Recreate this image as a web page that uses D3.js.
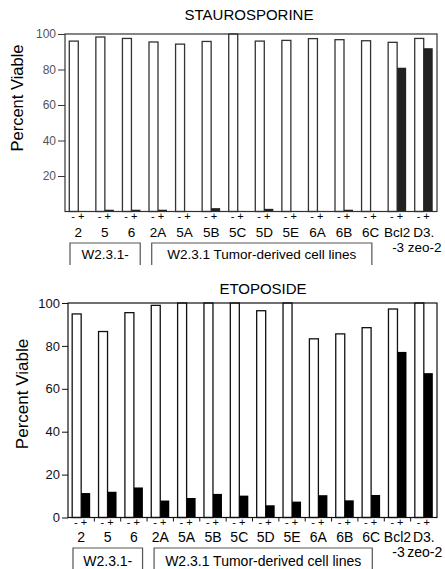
<!DOCTYPE html>
<html>
<head>
<meta charset="utf-8">
<script src="https://cdn.jsdelivr.net/npm/d3@7"></script>
<style>
  body { margin: 0; background: #fff; }
  svg { font-family: "Liberation Sans", Arial, sans-serif; }
</style>
</head>
<body>
<script>
// cell lines, in plotting order
const categories = ["2", "5", "6", "2A", "5A", "5B", "5C", "5D", "5E", "6A", "6B", "6C", "Bcl2-3", "D3.zeo-2"];
const labelLine1 = ["2", "5", "6", "2A", "5A", "5B", "5C", "5D", "5E", "6A", "6B", "6C", "Bcl2", "D3."];
const labelLine2 = ["", "", "", "", "", "", "", "", "", "", "", "", "-3", "zeo-2"];

// percent viable, untreated (-) and treated (+)
const stauroMinus = [96, 98.3, 97.5, 95.5, 94.3, 95.8, 100, 96, 96.4, 97.4, 96.8, 96.2, 95.3, 97.5];
const stauroPlus  = [0.3, 1, 1, 1, 0.3, 1.9, 0.3, 1.5, 0.3, 0.3, 1, 0.3, 81, 92];
const etoMinus = [94.9, 86.7, 95.5, 98.9, 100, 100, 100, 96.4, 100, 83.3, 85.6, 88.5, 97.2, 100];
const etoPlus  = [11.4, 12, 14, 7.9, 9.1, 11, 10.2, 5.7, 7.4, 10.4, 8, 10.5, 77.2, 67.3];

const stauroTicks = [20, 40, 60, 80, 100];
const etoTicks = [0, 20, 40, 60, 80, 100];

const svg = d3.select("body").append("svg")
    .attr("width", 445).attr("height", 569);

function panel(cfg) {
  const x = d3.scaleBand().domain(categories).range([cfg.left, cfg.right]);
  const y = d3.scaleLinear().domain([0, 100]).range([cfg.bottom, cfg.top]);
  const half = 9;
  const g = svg.append("g");

  g.append("text")
    .attr("x", cfg.titleX).attr("y", cfg.titleY)
    .attr("text-anchor", "middle")
    .style("font-size", "15px")
    .text(cfg.title);

  // untreated bars
  g.selectAll("rect.minus").data(categories).enter().append("rect")
    .attr("class", "minus")
    .attr("x", (d) => x(d) + x.bandwidth() / 2 - half)
    .attr("y", (d, i) => y(cfg.minus[i]))
    .attr("width", half)
    .attr("height", (d, i) => y(0) - y(cfg.minus[i]))
    .style("fill", "#fff")
    .style("stroke", cfg.ink)
    .style("stroke-width", 1.3);

  // treated bars
  g.selectAll("rect.plus").data(categories).enter().append("rect")
    .attr("class", "plus")
    .attr("x", (d) => x(d) + x.bandwidth() / 2)
    .attr("y", (d, i) => y(cfg.plus[i]))
    .attr("width", half)
    .attr("height", (d, i) => y(0) - y(cfg.plus[i]))
    .style("fill", cfg.dark);

  // frame
  g.append("rect")
    .attr("x", cfg.left).attr("y", y(100))
    .attr("width", cfg.right - cfg.left).attr("height", y(0) - y(100))
    .style("fill", "none")
    .style("stroke", cfg.ink)
    .style("stroke-width", 1.2);

  const yAxis = g.append("g")
    .attr("transform", `translate(${cfg.left},0)`)
    .call(d3.axisLeft(y).tickValues(cfg.ticks).tickSize(cfg.tickLen).tickPadding(2));
  yAxis.select(".domain").remove();
  yAxis.selectAll("line").style("stroke", cfg.ink);
  yAxis.selectAll("text")
    .style("font-size", cfg.tickFont)
    .style("font-family", "Liberation Sans, Arial, sans-serif")
    .style("fill", cfg.tickColor);

  if (cfg.xTicks) {
    g.selectAll("line.xt").data(categories.slice(1)).enter().append("line")
      .attr("x1", (d) => x(d)).attr("x2", (d) => x(d))
      .attr("y1", y(0)).attr("y2", y(0) + 4)
      .style("stroke", cfg.ink);
  }

  g.append("text")
    .attr("transform", `translate(${cfg.ylabX},${cfg.ylabY}) rotate(-90)`)
    .attr("text-anchor", "middle")
    .style("font-size", cfg.ylabFont)
    .text("Percent Viable");

  // - + markers
  g.selectAll("text.mk").data(categories).enter().append("text")
    .attr("x", (d) => x(d) + x.bandwidth() / 2 - 0.5)
    .attr("y", cfg.signY)
    .attr("text-anchor", "middle")
    .style("font-size", "11px")
    .text("- +");

  g.selectAll("text.c1").data(categories).enter().append("text")
    .attr("x", (d) => x(d) + x.bandwidth() / 2)
    .attr("y", cfg.lab1Y)
    .attr("text-anchor", "middle")
    .style("font-size", cfg.labFont)
    .text((d, i) => labelLine1[i]);

  g.selectAll("text.c2").data(categories).enter().append("text")
    .attr("x", (d) => x(d) + x.bandwidth() / 2 + 1)
    .attr("y", cfg.lab2Y)
    .attr("text-anchor", "middle")
    .style("font-size", cfg.labFont)
    .text((d, i) => labelLine2[i]);

  // group brackets
  const groups = [
    {name: "W2.3.1-", a: 0, b: 2, inA: 5, inB: 4.5},
    {name: "W2.3.1 Tumor-derived cell lines", a: 3, b: 11, inA: 7, inB: 12}
  ];
  groups.forEach((gr) => {
    const x0 = x(categories[gr.a]) + gr.inA;
    const x1 = x(categories[gr.b]) + x.bandwidth() - gr.inB;
    g.append("path")
      .attr("d", `M${x0},${cfg.boxBottom}V${cfg.boxTop}H${x1}V${cfg.boxBottom}`)
      .style("fill", "none")
      .style("stroke", "#555")
      .style("stroke-width", 1.2);
    g.append("text")
      .attr("x", (x0 + x1) / 2).attr("y", cfg.boxTextY)
      .attr("text-anchor", "middle")
      .style("font-size", cfg.labFont)
      .text(gr.name);
  });
}

panel({
  title: "STAUROSPORINE", titleX: 249, titleY: 20,
  minus: stauroMinus, plus: stauroPlus, ticks: stauroTicks,
  left: 65, right: 437, top: 34, bottom: 211.5,
  ink: "#333", dark: "#222", tickColor: "#555", tickFont: "12px", tickLen: 7,
  xTicks: false,
  ylabX: 23, ylabY: 98, ylabFont: "16.5px",
  signY: 220, lab1Y: 237, lab2Y: 252, labFont: "13.5px",
  boxTop: 243, boxBottom: 265, boxTextY: 259
});

panel({
  title: "ETOPOSIDE", titleX: 263, titleY: 294,
  minus: etoMinus, plus: etoPlus, ticks: etoTicks,
  left: 68, right: 437, top: 303, bottom: 517.5,
  ink: "#111", dark: "#000", tickColor: "#111", tickFont: "13px", tickLen: 6,
  xTicks: true,
  ylabX: 28, ylabY: 394, ylabFont: "17px",
  signY: 526, lab1Y: 542, lab2Y: 557, labFont: "14px",
  boxTop: 548, boxBottom: 575, boxTextY: 566
});
</script>
</body>
</html>
